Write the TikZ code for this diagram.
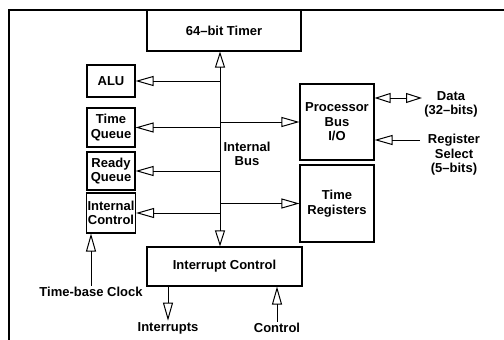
\documentclass[tikz,border=0pt]{standalone}
\usepackage{fontspec}
\setmainfont{Liberation Sans}
\usetikzlibrary{arrows.meta}

\tikzset{
  lbl/.style={font=\fontsize{13}{14.5}\selectfont\bfseries, align=center, inner sep=1pt},
  blk/.style={lbl, draw, line width=1.1pt},
  tip/.style={-{Triangle[open, length=18pt, width=10pt, line width=1pt]}},
  dtip/.style={{Triangle[open, length=16pt, width=10pt, line width=1pt]}-{Triangle[open, length=16pt, width=10pt, line width=1pt]}}
}

\begin{document}
\begin{tikzpicture}[x=1pt, y=-1pt, line width=1pt]
  \useasboundingbox (0,0) rectangle (504,340);

  % outer frame
  \draw[line width=2pt] (504,10) -- (9,10) -- (9,340);

  % blocks
  \node[blk, minimum width=154pt, minimum height=41pt] (timer) at (224,30.5) {64--bit Timer};
  \node[blk, minimum width=48pt, minimum height=32pt] (alu) at (111,81) {ALU};
  \node[blk, minimum width=48pt, minimum height=39pt] (tq) at (111,127.5) {Time\\Queue};
  \node[blk, minimum width=48pt, minimum height=38pt] (rq) at (111,171) {Ready\\Queue};
  \node[blk, minimum width=48pt, minimum height=40pt] (ic) at (111,213) {Internal\\Control};
  \node[blk, minimum width=74pt, minimum height=76pt] (pbio) at (337,122) {Processor\\Bus\\I/O};
  \node[blk, minimum width=74pt, minimum height=77pt] (treg) at (337,203.5) {Time\\Registers};
  \node[blk, minimum width=155pt, minimum height=39pt] (intc) at (224.5,266.5) {Interrupt Control};

  % labels
  \node[lbl] (ibus) at (247,154) {Internal\\Bus};
  \node[lbl] (data) at (451,104.5) {Data\\(32--bits)};
  \node[lbl] (rsel) at (454,155) {Register\\Select\\(5--bits)};
  \node[lbl, anchor=north] (tbc) at (91,286) {Time-base Clock};
  \node[lbl] (intr) at (168,328) {Interrupts};
  \node[lbl] (ctl) at (277,328) {Control};
  \coordinate (bus) at (220,150);
  \coordinate (dend) at (422,98);
  \coordinate (rend) at (420,140);

  % internal bus
  \draw[dtip] (bus |- timer.south) -- (bus |- intc.north);
  \foreach \b in {alu,tq,rq,ic} {
    \draw[tip] (bus |- \b.east) -- (\b.east);
  }
  \foreach \b in {pbio,treg} {
    \draw[tip] (bus |- \b.west) -- (\b.west);
  }

  % outside connections
  \draw[dtip] (pbio.east |- dend) -- (dend);
  \draw[tip] (rend) -- (pbio.east |- rend);
  \draw[tip] (tbc.north) -- (tbc.north |- ic.south);
  \draw[tip] (intc.south -| intr) -- (intr.north);
  \draw[tip] (ctl.north) -- (intc.south -| ctl);
\end{tikzpicture}
\end{document}
